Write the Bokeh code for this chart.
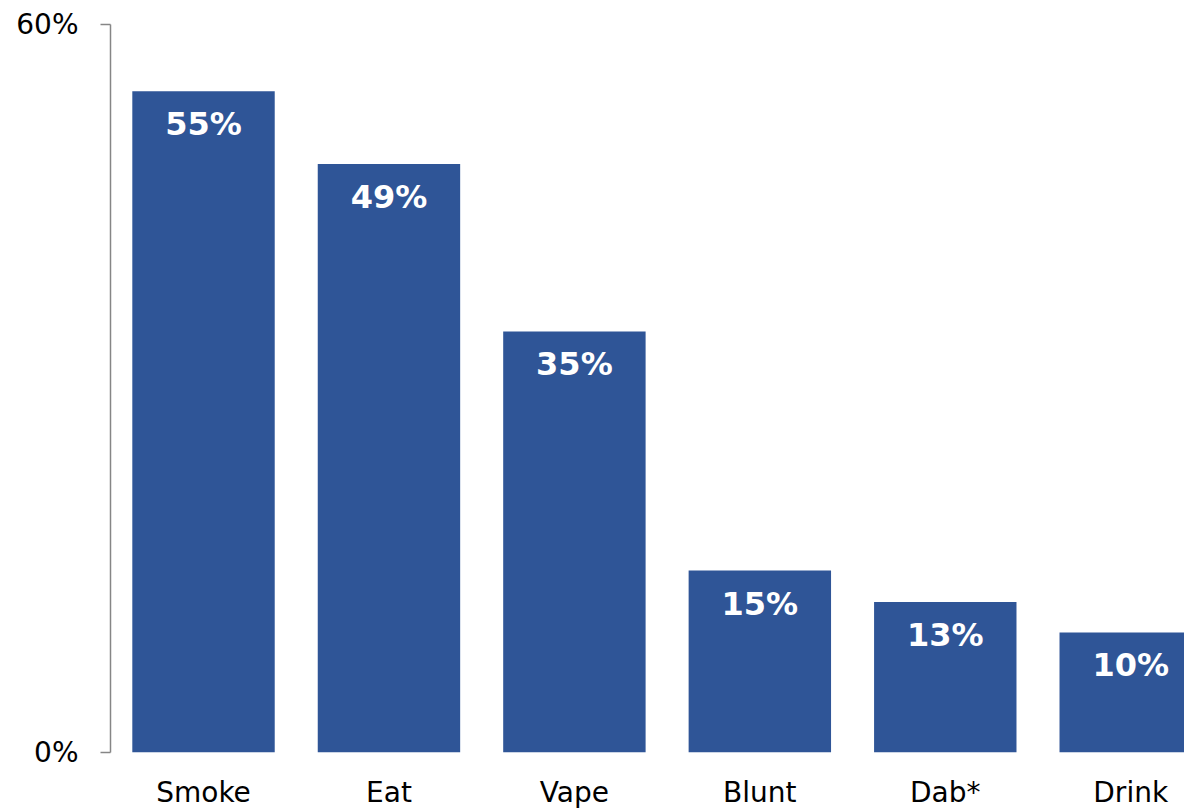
from bokeh.plotting import figure
from bokeh.models import Range1d, FixedTicker, ColumnDataSource
from bokeh.core.properties import value
from bokeh.embed import file_html
from bokeh.resources import INLINE

categories = ["Smoke", "Eat", "Vape", "Blunt", "Dab*", "Drink"]
values = [54.5, 48.5, 34.7, 15.0, 12.4, 9.9]
value_labels = ["55%", "49%", "35%", "15%", "13%", "10%"]
y_ticks = [0, 60]
y_tick_labels = ["0%", "60%"]

BAR = "#2F5597"
FONT = "DejaVu Sans"

xs = list(range(len(categories)))
src = ColumnDataSource(dict(x=xs, top=values, lab=value_labels))

p = figure(width=1184, height=812, output_backend="svg", toolbar_location=None,
           x_range=Range1d(-0.5016, 5.29), y_range=Range1d(0, 60),
           min_border_left=110, min_border_right=0, min_border_top=24, min_border_bottom=60)

p.vbar(x="x", top="top", bottom=0, width=0.768, source=src, fill_color=BAR, line_color=None)
p.text(x="x", y="top", text="lab", source=src, text_color="white",
       text_font=value(FONT), text_font_style="bold", text_font_size="32px",
       text_align="center", text_baseline="middle", y_offset=33)

p.xgrid.visible = False
p.ygrid.visible = False
p.outline_line_color = None
p.background_fill_color = "white"
p.border_fill_color = "white"

xa = p.xaxis[0]
xa.ticker = FixedTicker(ticks=xs)
xa.major_label_overrides = {i: c for i, c in zip(xs, categories)}
xa.axis_line_color = None
xa.major_tick_line_color = None
xa.minor_tick_line_color = None
xa.major_tick_out = 0
xa.major_tick_in = 0
xa.major_label_standoff = 23
xa.major_label_text_font = FONT
xa.major_label_text_font_size = "28px"
xa.major_label_text_color = "black"

ya = p.yaxis[0]
ya.ticker = FixedTicker(ticks=y_ticks)
ya.major_label_overrides = {t: l for t, l in zip(y_ticks, y_tick_labels)}
ya.axis_line_color = "#868686"
ya.axis_line_width = 1.5
ya.major_tick_line_color = "#868686"
ya.major_tick_line_width = 1.5
ya.minor_tick_line_color = None
ya.major_tick_out = 10
ya.major_tick_in = 0
ya.major_label_standoff = 22
ya.major_label_text_font = FONT
ya.major_label_text_font_size = "28px"
ya.major_label_text_color = "black"

open("out.html", "w").write(file_html(p, INLINE))
